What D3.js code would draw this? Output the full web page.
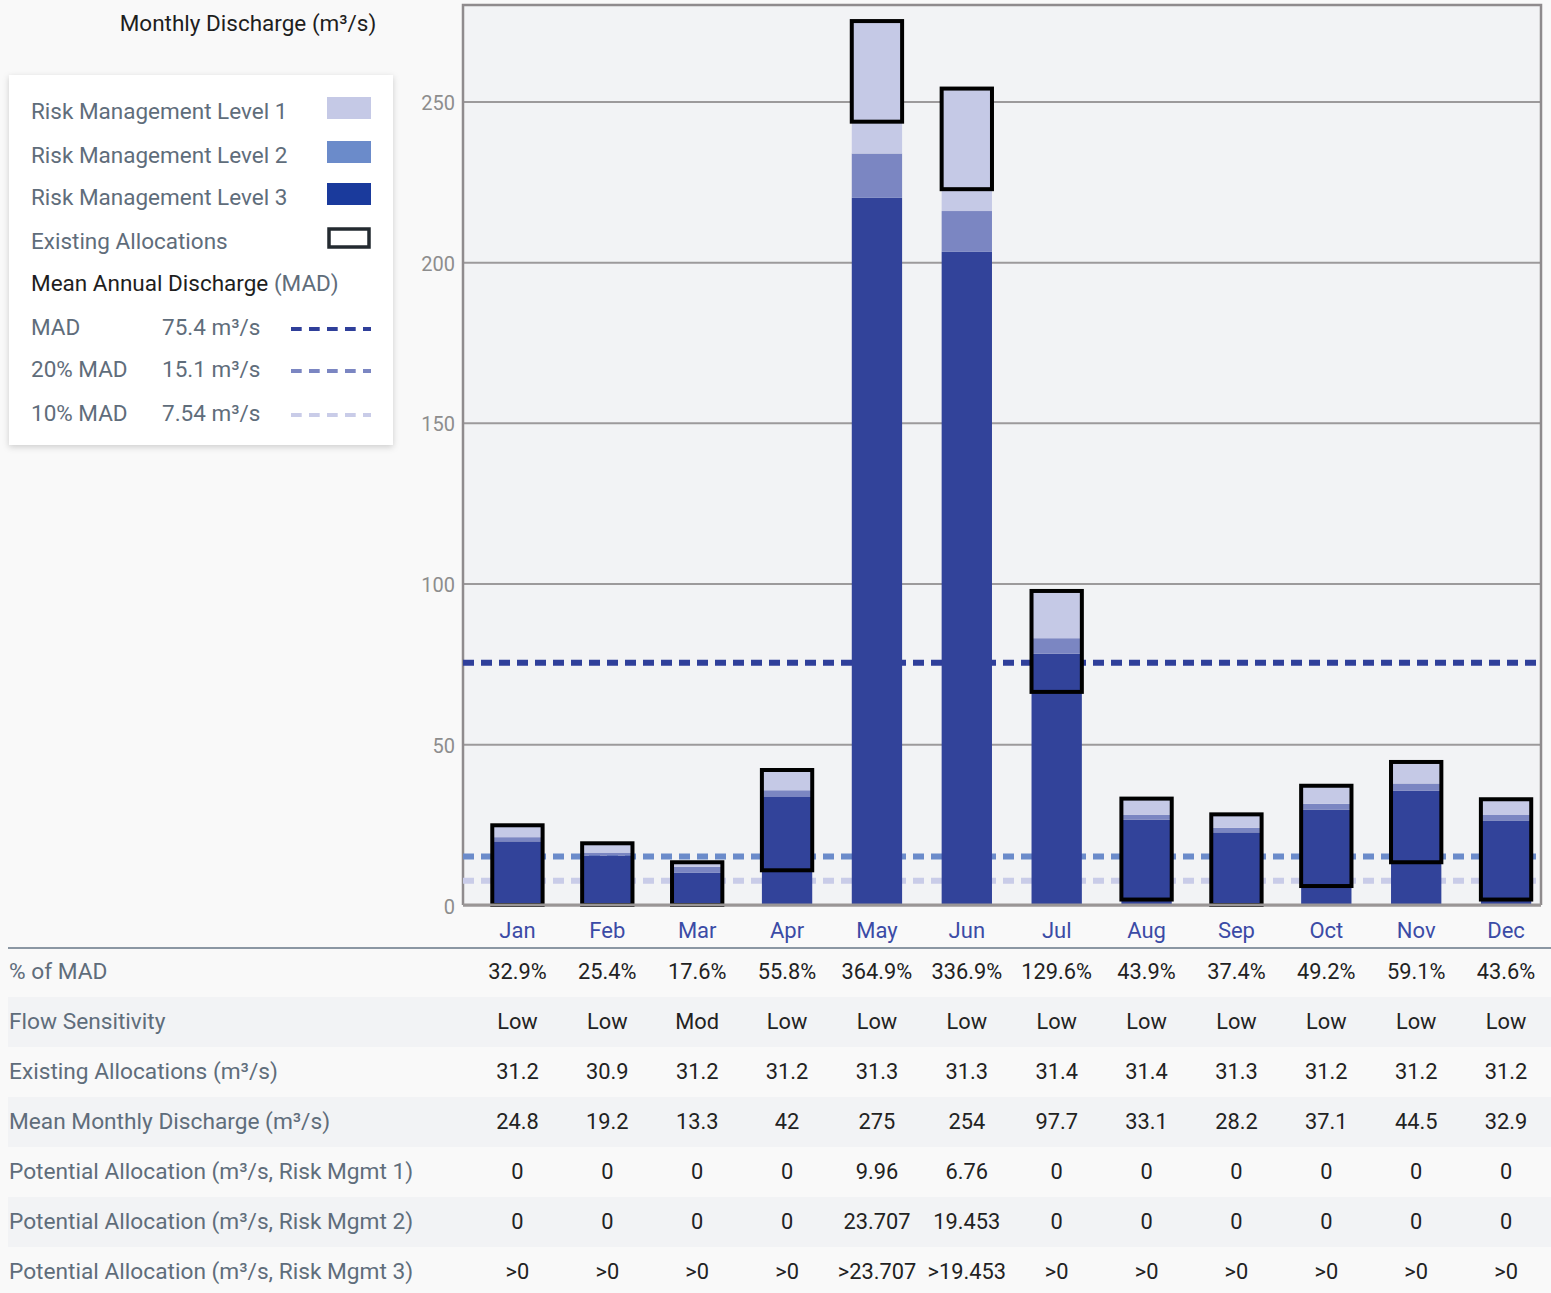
<!DOCTYPE html>
<html>
<head>
<meta charset="utf-8">
<script src="https://cdn.jsdelivr.net/npm/d3@7"></script>
<style>
  body { margin: 0; background: #f9f9f9; font-family: Roboto, "Noto Sans", sans-serif; }
  svg { display: block; }
</style>
</head>
<body>
<div id="chart"></div>
<script>
// chart values
var months = ["Jan", "Feb", "Mar", "Apr", "May", "Jun", "Jul", "Aug", "Sep", "Oct", "Nov", "Dec"];
var meanDischarge = [24.8, 19.2, 13.3, 42, 275, 254, 97.7, 33.1, 28.2, 37.1, 44.5, 32.9];
var existingAlloc = [31.2, 30.9, 31.2, 31.2, 31.3, 31.3, 31.4, 31.4, 31.3, 31.2, 31.2, 31.2];
// top of the Risk Mgmt 3 and Risk Mgmt 2 bands
var rm3Top = [19.8, 15.4, 10.0, 33.6, 220.0, 203.2, 78.2, 26.5, 22.6, 29.7, 35.6, 26.3];
var rm2Top = [21.1, 16.3, 11.9, 35.7, 233.8, 215.9, 83.0, 28.1, 24.0, 31.5, 37.8, 28.0];
var pctMAD = ["32.9%", "25.4%", "17.6%", "55.8%", "364.9%", "336.9%", "129.6%", "43.9%", "37.4%", "49.2%", "59.1%", "43.6%"];
var sensitivity = ["Low", "Low", "Mod", "Low", "Low", "Low", "Low", "Low", "Low", "Low", "Low", "Low"];
var potRM1 = ["0", "0", "0", "0", "9.96", "6.76", "0", "0", "0", "0", "0", "0"];
var potRM2 = ["0", "0", "0", "0", "23.707", "19.453", "0", "0", "0", "0", "0", "0"];
var potRM3 = [">0", ">0", ">0", ">0", ">23.707", ">19.453", ">0", ">0", ">0", ">0", ">0", ">0"];
var madNames = ["MAD", "20% MAD", "10% MAD"];
var madValues = [75.4, 15.1, 7.54];
var madText = ["75.4 m³/s", "15.1 m³/s", "7.54 m³/s"];
var yTicks = [0, 50, 100, 150, 200, 250];
var legendNames = ["Risk Management Level 1", "Risk Management Level 2", "Risk Management Level 3", "Existing Allocations"];

var svgWidth = 1551;
var svgHeight = 1293;

var plot = { left: 463, right: 1541, top: 5, bottom: 905 };

var colLight = "#c5c9e6";
var colMid = "#7b86c2";
var colDark = "#32439a";
var labelGrey = "#5f6d7b";

var svg = d3.select("#chart")
    .append("svg")
    .attr("width", svgWidth)
    .attr("height", svgHeight);

var defs = svg.append("defs");
var shadow = defs.append("filter")
    .attr("id", "shadow")
    .attr("x", "-10%").attr("y", "-10%")
    .attr("width", "120%").attr("height", "120%");
shadow.append("feDropShadow")
    .attr("dx", 0).attr("dy", 2)
    .attr("stdDeviation", 3)
    .attr("flood-color", "#000")
    .attr("flood-opacity", 0.18);

var xScale = d3.scaleBand()
    .domain(months)
    .range([472.5, 1551])
    .paddingInner(0.44)
    .paddingOuter(0.22);

var yScale = d3.scaleLinear()
    .domain([0, 280])
    .range([plot.bottom, plot.top]);

// plot background
svg.append("rect")
    .attr("x", plot.left)
    .attr("y", plot.top)
    .attr("width", plot.right - plot.left)
    .attr("height", plot.bottom - plot.top)
    .attr("fill", "#f2f3f5");

// gridlines + tick labels
var leftAxis = d3.axisLeft(yScale)
    .tickValues(yTicks)
    .tickSize(-(plot.right - plot.left))
    .tickPadding(8);

var yAxis = svg.append("g")
    .attr("transform", `translate(${plot.left}, 0)`)
    .call(leftAxis);
yAxis.select(".domain").remove();
yAxis.selectAll("line")
    .attr("stroke", "#9c9a9b")
    .attr("stroke-width", 2);
yAxis.selectAll("text")
    .attr("fill", "#8d8d8d")
    .attr("dy", "0.4em")
    .style("font-size", "20px")
    .style("font-family", "Roboto");

// border
svg.append("path")
    .attr("d", `M${plot.left},${plot.bottom}V${plot.top}H${plot.right}V${plot.bottom}`)
    .attr("fill", "none")
    .attr("stroke", "#8f8b8d")
    .attr("stroke-width", 2.5);

// MAD lines
var madColors = ["#2f3f9a", "#6b8bca", "#c9cce8"];
svg.selectAll(".madLine")
    .data(madValues)
    .enter()
    .append("line")
    .attr("class", "madLine")
    .attr("x1", plot.left)
    .attr("x2", plot.right)
    .attr("y1", d => yScale(d))
    .attr("y2", d => yScale(d))
    .attr("stroke", (d, i) => madColors[i])
    .attr("stroke-width", 6)
    .attr("stroke-dasharray", "11,7");

// stacked bars
var bw = xScale.bandwidth();
var barGroups = svg.selectAll(".bar")
    .data(months)
    .enter()
    .append("g")
    .attr("class", "bar");

barGroups.append("rect")
    .attr("x", d => xScale(d))
    .attr("width", bw)
    .attr("y", (d, i) => yScale(rm3Top[i]))
    .attr("height", (d, i) => yScale(0) - yScale(rm3Top[i]))
    .attr("fill", colDark);

barGroups.append("rect")
    .attr("x", d => xScale(d))
    .attr("width", bw)
    .attr("y", (d, i) => yScale(rm2Top[i]))
    .attr("height", (d, i) => yScale(rm3Top[i]) - yScale(rm2Top[i]))
    .attr("fill", colMid);

barGroups.append("rect")
    .attr("x", d => xScale(d))
    .attr("width", bw)
    .attr("y", (d, i) => yScale(meanDischarge[i]))
    .attr("height", (d, i) => yScale(rm2Top[i]) - yScale(meanDischarge[i]))
    .attr("fill", colLight);

// existing allocations boxes
barGroups.append("rect")
    .attr("x", d => xScale(d))
    .attr("width", bw)
    .attr("y", (d, i) => yScale(meanDischarge[i]))
    .attr("height", (d, i) => yScale(Math.max(0, meanDischarge[i] - existingAlloc[i])) - yScale(meanDischarge[i]))
    .attr("fill", "none")
    .attr("stroke", "#000")
    .attr("stroke-width", 4);

// bottom axis line
svg.append("line")
    .attr("x1", plot.left)
    .attr("x2", plot.right)
    .attr("y1", plot.bottom)
    .attr("y2", plot.bottom)
    .attr("stroke", "#9a9696")
    .attr("stroke-width", 3);

var bottomAxis = d3.axisBottom(xScale)
    .tickSize(0)
    .tickPadding(17);
var xAxis = svg.append("g")
    .attr("transform", `translate(0, ${plot.bottom})`)
    .call(bottomAxis);
xAxis.select(".domain").remove();
xAxis.selectAll("text")
    .attr("fill", "#3b4ba6")
    .style("font-size", "22px")
    .style("font-family", "Roboto");

// title
svg.append("text")
    .attr("x", 248)
    .attr("y", 31)
    .attr("text-anchor", "middle")
    .attr("fill", "#1e1e1e")
    .style("font-size", "22.5px")
    .text("Monthly Discharge (m³/s)");

// legend
var legend = svg.append("g");
legend.append("rect")
    .attr("x", 9)
    .attr("y", 75)
    .attr("width", 384)
    .attr("height", 370)
    .attr("fill", "#fff")
    .attr("filter", "url(#shadow)");

var legendY = [111, 155, 197, 241];
var swatchFill = [colLight, "#6b8bca", "#1a3a9c", "#fff"];
legend.selectAll(".legText")
    .data(legendNames)
    .enter()
    .append("text")
    .attr("x", 31)
    .attr("y", (d, i) => legendY[i])
    .attr("dy", "0.35em")
    .attr("fill", labelGrey)
    .style("font-size", "22.5px")
    .text(d => d);

legend.selectAll(".swatch")
    .data(legendNames)
    .enter()
    .append("rect")
    .attr("x", (d, i) => i === 3 ? 329 : 327)
    .attr("y", (d, i) => i === 3 ? 229 : legendY[i] - 14)
    .attr("width", (d, i) => i === 3 ? 40 : 44)
    .attr("height", (d, i) => i === 3 ? 18 : 22)
    .attr("fill", (d, i) => swatchFill[i])
    .attr("stroke", (d, i) => i === 3 ? "#232a30" : "none")
    .attr("stroke-width", 3.5);

var madHead = legend.append("text")
    .attr("x", 31)
    .attr("y", 283)
    .attr("dy", "0.35em")
    .style("font-size", "22.5px");
madHead.append("tspan").attr("fill", "#1e1e1e").text("Mean Annual Discharge ");
madHead.append("tspan").attr("fill", labelGrey).text("(MAD)");

var madY = [327, 369, 413];
var madLegendColors = ["#2f3f9a", "#7b86c2", "#c9cce8"];
legend.selectAll(".madName")
    .data(madNames)
    .enter()
    .append("text")
    .attr("x", 31)
    .attr("y", (d, i) => madY[i])
    .attr("dy", "0.35em")
    .attr("fill", labelGrey)
    .style("font-size", "22.5px")
    .text(d => d);

legend.selectAll(".madVal")
    .data(madText)
    .enter()
    .append("text")
    .attr("x", 162)
    .attr("y", (d, i) => madY[i])
    .attr("dy", "0.35em")
    .attr("fill", labelGrey)
    .style("font-size", "22.5px")
    .text(d => d);

legend.selectAll(".madDash")
    .data(madText)
    .enter()
    .append("line")
    .attr("x1", 291)
    .attr("x2", 371)
    .attr("y1", (d, i) => madY[i] + 2)
    .attr("y2", (d, i) => madY[i] + 2)
    .attr("stroke", (d, i) => madLegendColors[i])
    .attr("stroke-width", 4)
    .attr("stroke-dasharray", "10.7,7.3");

// table
var tableTop = 948;
var rowH = 50;
var rowLabels = ["% of MAD", "Flow Sensitivity", "Existing Allocations (m³/s)", "Mean Monthly Discharge (m³/s)",
    "Potential Allocation (m³/s, Risk Mgmt 1)", "Potential Allocation (m³/s, Risk Mgmt 2)", "Potential Allocation (m³/s, Risk Mgmt 3)"];
var rowValues = [pctMAD, sensitivity, existingAlloc.map(String), meanDischarge.map(String), potRM1, potRM2, potRM3];

var table = svg.append("g");
table.selectAll(".rowBg")
    .data(rowLabels)
    .enter()
    .append("rect")
    .attr("x", 8)
    .attr("y", (d, i) => tableTop + i * rowH - 1)
    .attr("width", svgWidth - 8)
    .attr("height", rowH)
    .attr("fill", (d, i) => i % 2 ? "#f2f3f5" : "#f9f9f9");

table.append("line")
    .attr("x1", 8)
    .attr("x2", svgWidth)
    .attr("y1", tableTop)
    .attr("y2", tableTop)
    .attr("stroke", "#8b97a3")
    .attr("stroke-width", 2);

table.selectAll(".rowLabel")
    .data(rowLabels)
    .enter()
    .append("text")
    .attr("x", 9)
    .attr("y", (d, i) => tableTop + 23 + i * rowH)
    .attr("dy", "0.35em")
    .attr("fill", labelGrey)
    .style("font-size", "22.7px")
    .text(d => d);

rowValues.forEach(function (vals, r) {
    table.selectAll(".cell" + r)
        .data(vals)
        .enter()
        .append("text")
        .attr("x", (d, i) => xScale(months[i]) + bw / 2)
        .attr("y", tableTop + 23 + r * rowH)
        .attr("dy", "0.35em")
        .attr("text-anchor", "middle")
        .attr("fill", "#222")
        .style("font-size", "21.8px")
        .text(d => d);
});
</script>
</body>
</html>
